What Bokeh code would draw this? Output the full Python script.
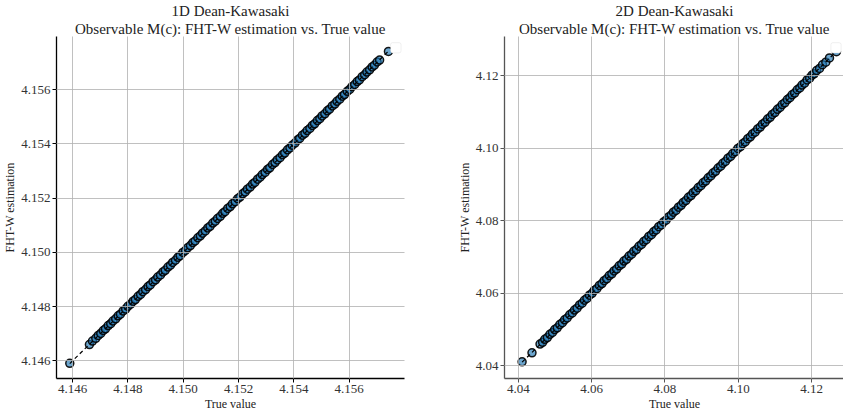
from bokeh.plotting import figure
from bokeh.layouts import row
from bokeh.models import Title, FixedTicker, PrintfTickFormatter, Range1d, BoxAnnotation
from bokeh.embed import file_html
from bokeh.resources import INLINE

# ---------------- data ----------------
panel_names = ["1D Dean-Kawasaki", "2D Dean-Kawasaki"]
subtitle = "Observable M(c): FHT-W estimation vs. True value"

true_1d = [4.14590, 4.14661, 4.14672, 4.14684, 4.14693,
           4.14702, 4.14711, 4.14719, 4.14729, 4.14738, 4.14746, 4.14756, 4.14765, 4.14773, 4.14783,
           4.14792, 4.14800, 4.14810, 4.14819, 4.14827, 4.14837, 4.14846, 4.14854, 4.14864, 4.14873,
           4.14881, 4.14891, 4.14900, 4.14908, 4.14918, 4.14927, 4.14935, 4.14945, 4.14954, 4.14962,
           4.14972, 4.14981, 4.14989, 4.14999, 4.15008, 4.15016, 4.15026, 4.15035, 4.15043, 4.15053,
           4.15062, 4.15070, 4.15080, 4.15089, 4.15097, 4.15107, 4.15116, 4.15124, 4.15134, 4.15143,
           4.15151, 4.15161, 4.15170, 4.15178, 4.15188, 4.15197, 4.15205, 4.15215, 4.15224, 4.15232,
           4.15242, 4.15251, 4.15259, 4.15269, 4.15278, 4.15286, 4.15296, 4.15305, 4.15313, 4.15323,
           4.15332, 4.15340, 4.15350, 4.15359, 4.15367, 4.15377, 4.15386, 4.15394, 4.15404, 4.15413,
           4.15421, 4.15431, 4.15440, 4.15448, 4.15458, 4.15467, 4.15475, 4.15485, 4.15494, 4.15502,
           4.15512, 4.15521, 4.15529, 4.15539, 4.15548, 4.15556, 4.15566, 4.15575, 4.15583, 4.15593,
           4.15602, 4.15610, 4.15620, 4.15629, 4.15637, 4.15647, 4.15656, 4.15664, 4.15674, 4.15683,
           4.15691, 4.15701, 4.15710, 4.15742]
est_1d = [4.14591, 4.14660, 4.14673, 4.14683, 4.14694,
          4.14701, 4.14712, 4.14718, 4.14730, 4.14737, 4.14747, 4.14755, 4.14766, 4.14772, 4.14784,
          4.14791, 4.14801, 4.14809, 4.14820, 4.14826, 4.14838, 4.14845, 4.14855, 4.14863, 4.14874,
          4.14880, 4.14892, 4.14899, 4.14909, 4.14917, 4.14928, 4.14934, 4.14946, 4.14953, 4.14963,
          4.14971, 4.14982, 4.14988, 4.15000, 4.15007, 4.15017, 4.15025, 4.15036, 4.15042, 4.15054,
          4.15061, 4.15071, 4.15079, 4.15090, 4.15096, 4.15108, 4.15115, 4.15125, 4.15133, 4.15144,
          4.15150, 4.15162, 4.15169, 4.15179, 4.15187, 4.15198, 4.15204, 4.15216, 4.15223, 4.15233,
          4.15241, 4.15252, 4.15258, 4.15270, 4.15277, 4.15287, 4.15295, 4.15306, 4.15312, 4.15324,
          4.15331, 4.15341, 4.15349, 4.15360, 4.15366, 4.15378, 4.15385, 4.15395, 4.15403, 4.15414,
          4.15420, 4.15432, 4.15439, 4.15449, 4.15457, 4.15468, 4.15474, 4.15486, 4.15493, 4.15503,
          4.15511, 4.15522, 4.15528, 4.15540, 4.15547, 4.15557, 4.15565, 4.15576, 4.15582, 4.15594,
          4.15601, 4.15611, 4.15619, 4.15630, 4.15636, 4.15648, 4.15655, 4.15665, 4.15673, 4.15684,
          4.15690, 4.15702, 4.15709, 4.15741]

true_2d = [4.0410, 4.0437, 4.0459, 4.0466, 4.0472,
           4.0479, 4.0486, 4.0493, 4.0499, 4.0506, 4.0513, 4.0520, 4.0526, 4.0533, 4.0540,
           4.0547, 4.0553, 4.0560, 4.0567, 4.0574, 4.0580, 4.0587, 4.0594, 4.0601, 4.0607,
           4.0614, 4.0621, 4.0628, 4.0634, 4.0641, 4.0648, 4.0655, 4.0661, 4.0668, 4.0675,
           4.0682, 4.0688, 4.0695, 4.0702, 4.0709, 4.0715, 4.0722, 4.0729, 4.0736, 4.0742,
           4.0749, 4.0756, 4.0763, 4.0769, 4.0776, 4.0783, 4.0790, 4.0796, 4.0803, 4.0810,
           4.0817, 4.0823, 4.0830, 4.0837, 4.0844, 4.0850, 4.0857, 4.0864, 4.0871, 4.0877,
           4.0884, 4.0891, 4.0898, 4.0904, 4.0911, 4.0918, 4.0925, 4.0931, 4.0938, 4.0945,
           4.0952, 4.0958, 4.0965, 4.0972, 4.0979, 4.0985, 4.0992, 4.0999, 4.1006, 4.1012,
           4.1019, 4.1026, 4.1033, 4.1039, 4.1046, 4.1053, 4.1060, 4.1066, 4.1073, 4.1080,
           4.1087, 4.1093, 4.1100, 4.1107, 4.1114, 4.1120, 4.1127, 4.1134, 4.1141, 4.1147,
           4.1154, 4.1161, 4.1168, 4.1174, 4.1181, 4.1188, 4.1195, 4.1201, 4.1207,
           4.1214, 4.1222, 4.1230, 4.1239, 4.1249, 4.1268]
est_2d = [4.0411, 4.0436, 4.0460, 4.0465, 4.0473,
          4.0478, 4.0487, 4.0492, 4.0500, 4.0505, 4.0514, 4.0519, 4.0527, 4.0532, 4.0541,
          4.0546, 4.0554, 4.0559, 4.0568, 4.0573, 4.0581, 4.0586, 4.0595, 4.0600, 4.0608,
          4.0613, 4.0622, 4.0627, 4.0635, 4.0640, 4.0649, 4.0654, 4.0662, 4.0667, 4.0676,
          4.0681, 4.0689, 4.0694, 4.0703, 4.0708, 4.0716, 4.0721, 4.0730, 4.0735, 4.0743,
          4.0748, 4.0757, 4.0762, 4.0770, 4.0775, 4.0784, 4.0789, 4.0797, 4.0802, 4.0811,
          4.0816, 4.0824, 4.0829, 4.0838, 4.0843, 4.0851, 4.0856, 4.0865, 4.0870, 4.0878,
          4.0883, 4.0892, 4.0897, 4.0905, 4.0910, 4.0919, 4.0924, 4.0932, 4.0937, 4.0946,
          4.0951, 4.0959, 4.0964, 4.0973, 4.0978, 4.0986, 4.0991, 4.1000, 4.1005, 4.1013,
          4.1018, 4.1027, 4.1032, 4.1040, 4.1045, 4.1054, 4.1059, 4.1067, 4.1072, 4.1081,
          4.1086, 4.1094, 4.1099, 4.1108, 4.1113, 4.1121, 4.1126, 4.1135, 4.1140, 4.1148,
          4.1153, 4.1162, 4.1167, 4.1175, 4.1180, 4.1189, 4.1194, 4.1202, 4.1206,
          4.1215, 4.1221, 4.1231, 4.1238, 4.1250, 4.1267]

ticks_1d = [4.146, 4.148, 4.150, 4.152, 4.154, 4.156]
ticks_2d = [4.04, 4.06, 4.08, 4.10, 4.12]

FONT = "Liberation Serif"


def make_panel(name, tv, ev, ticks, fmt, xr, yr, frame_w, b_left, b_right, axis_col):
    p = figure(frame_width=frame_w, frame_height=342, output_backend="svg",
               toolbar_location=None, title=name,
               x_range=Range1d(*xr), y_range=Range1d(*yr),
               min_border_left=b_left, min_border_right=b_right,
               min_border_top=2, min_border_bottom=33)
    p.title.text_font = FONT
    p.title.text_font_size = "15px"
    p.title.text_font_style = "normal"
    p.title.text_color = "#222222"
    p.title.align = "center"
    p.title.standoff = 0
    t2 = Title(text=subtitle, align="center", text_font=FONT, text_font_size="15px",
               text_font_style="normal", text_color="#222222", standoff=0)
    p.add_layout(t2, "above")
    p.outline_line_color = None

    for ax, lab in ((p.xaxis[0], "True value"), (p.yaxis[0], "FHT-W estimation")):
        ax.ticker = FixedTicker(ticks=ticks)
        ax.formatter = PrintfTickFormatter(format=fmt)
        ax.axis_label = lab
        ax.axis_label_text_font = FONT
        ax.axis_label_text_font_size = "12px"
        ax.axis_label_text_font_style = "normal"
        ax.axis_label_text_color = "#222222"
        ax.axis_label_standoff = 1
        ax.major_label_text_font = FONT
        ax.major_label_text_font_size = "13px"
        ax.major_label_text_color = "#333333"
        ax.major_label_standoff = 2
        ax.minor_tick_line_color = None
        ax.major_tick_in = 0
        ax.major_tick_out = 4
        ax.axis_line_color = axis_col
        ax.axis_line_width = 1.3
        ax.major_tick_line_color = axis_col

    lo, hi = min(tv), max(tv)
    p.scatter(tv, ev, size=8, fill_color="#1f77b4", fill_alpha=0.65,
              line_color="black", line_width=1.5, line_alpha=0.9)
    p.line([lo, hi], [lo, hi], line_color="black", line_dash="4 3", line_width=1.2)

    for g in (p.xgrid[0], p.ygrid[0]):
        g.ticker = FixedTicker(ticks=ticks)
        g.grid_line_color = "#b0b0b0"
        g.grid_line_alpha = 0.8
        g.grid_line_width = 1
        g.level = "overlay"

    # empty legend frame in the upper-right corner
    xs = xr[1] - xr[0]
    ys = yr[1] - yr[0]
    p.add_layout(BoxAnnotation(left=xr[1] - 0.040 * xs, right=xr[1] - 0.010 * xs,
                               top=yr[1] - 0.018 * ys, bottom=yr[1] - 0.048 * ys,
                               fill_color="white", fill_alpha=1,
                               line_color="#cccccc", line_width=1, border_radius=2))
    return p


p1 = make_panel(panel_names[0], true_1d, est_1d, ticks_1d, "%.3f",
                (4.14542, 4.15800), (4.14535, 4.15796), 348, 47, 17, "black")
p2 = make_panel(panel_names[1], true_2d, est_2d, ticks_2d, "%.2f",
                (4.0362, 4.1290), (4.0365, 4.1309), 340, 83, 0, "#555555")

layout = row(p1, p2, spacing=0)
open("out.html", "w").write(file_html(layout, INLINE))
